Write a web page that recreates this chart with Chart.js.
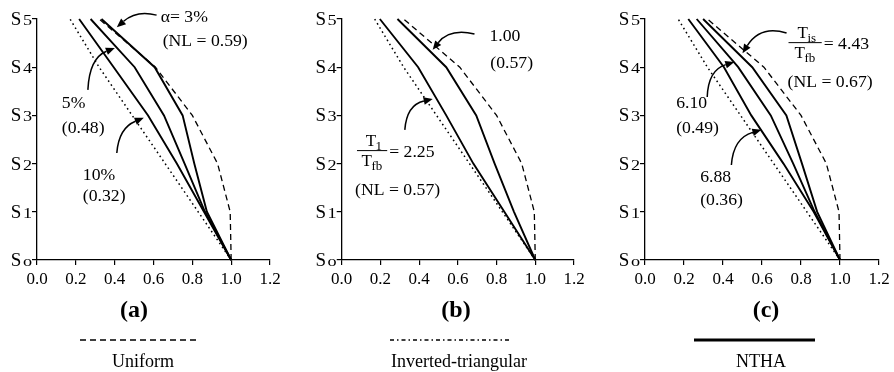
<!DOCTYPE html>
<html><head><meta charset="utf-8">
<script src="https://cdn.jsdelivr.net/npm/chart.js@4.4.1/dist/chart.umd.min.js"></script>
<style>
html,body{margin:0;padding:0;background:#fff;}
#wrap{position:relative;width:894px;height:372px;overflow:hidden;background:#fff;}
.p{position:absolute;top:0;width:298px;height:372px;}
canvas{display:block;}
</style></head><body>
<div id="wrap">
<div class="p" style="left:0"><canvas id="ca" width="298" height="372"></canvas></div>
<div class="p" style="left:298px"><canvas id="cb" width="298" height="372"></canvas></div>
<div class="p" style="left:596px"><canvas id="cc" width="298" height="372"></canvas></div>
</div>
<script>
// ---- data ----
const levels = [0, 1, 2, 3, 4, 5];
const yTickMain = 'S';
const yTickSubs = ['o', '1', '2', '3', '4', '5'];
const xTicks = [0, 0.2, 0.4, 0.6, 0.8, 1.0, 1.2];

const uniform = [1.0, 0.995, 0.93, 0.80, 0.61, 0.32];
const invTri  = [1.0, 0.83, 0.66, 0.49, 0.32, 0.17];

const nthaA3  = [1.0, 0.875, 0.81, 0.75, 0.606, 0.332];
const nthaA5  = [1.0, 0.865, 0.76, 0.654, 0.503, 0.276];
const nthaA10 = [1.0, 0.86, 0.72, 0.572, 0.395, 0.217];

const nthaB100 = [1.0, 0.89, 0.79, 0.695, 0.54, 0.288];
const nthaB225 = [1.0, 0.84, 0.68, 0.54, 0.395, 0.197];

const nthaC443 = [1.0, 0.883, 0.805, 0.725, 0.55, 0.298];
const nthaC610 = [1.0, 0.87, 0.76, 0.645, 0.478, 0.265];
const nthaC688 = [1.0, 0.865, 0.71, 0.545, 0.405, 0.222];

const panelTitles = ['(a)', '(b)', '(c)'];
const legendNames = ['Uniform', 'Inverted-triangular', 'NTHA'];

// ---- styling ----
const FONT = '"Liberation Serif", "Times New Roman", serif';
function pts(arr) { return arr.map((x, i) => ({ x: x, y: levels[i] })); }
function solid(arr) { return { data: pts(arr), borderColor: '#000', borderWidth: 1.9, pointRadius: 0, fill: false, tension: 0 }; }
function dashedDs() { return { data: pts(uniform), borderColor: '#000', borderWidth: 1.3, borderDash: [6, 4], pointRadius: 0, fill: false, tension: 0 }; }
function dottedDs() { return { data: pts(invTri), borderColor: '#000', borderWidth: 1.5, borderDash: [1.6, 3.2], pointRadius: 0, fill: false, tension: 0 }; }

const panelCfg = {
  ca: {
    L: 37, R: 28, title: panelTitles[0], titleX: 134,
    legend: { name: legendNames[0], x1: 80, x2: 197, tx: 143, style: 'dash' },
    texts: [
      { s: 'α= 3%', x: 0.637, y: 5.04 },
      { s: '(NL = 0.59)', x: 0.647, y: 4.54 },
      { s: '5%', x: 0.128, y: 3.24 },
      { s: '(0.48)', x: 0.128, y: 2.72 },
      { s: '10%', x: 0.236, y: 1.76 },
      { s: '(0.32)', x: 0.236, y: 1.31 }
    ],
    fracs: [],
    arrows: [
      { f: [0.616, 5.08], c: [0.514, 5.19], t: [0.411, 4.83] },
      { f: [0.262, 3.53], c: [0.27, 4.19], t: [0.401, 4.40] },
      { f: [0.411, 2.22], c: [0.421, 2.74], t: [0.55, 2.95] }
    ]
  },
  cb: {
    L: 43.7, R: 22, title: panelTitles[1], titleX: 158,
    legend: { name: legendNames[1], x1: 92, x2: 212, tx: 161, style: 'dashdot' },
    texts: [
      { s: '1.00', x: 0.763, y: 4.63 },
      { s: '(0.57)', x: 0.768, y: 4.07 },
      { s: '(NL = 0.57)', x: 0.069, y: 1.45 }
    ],
    fracs: [ { x: 0.079, y: 2.28, num: ['T', '1'], den: ['T', 'fb'], rhs: '= 2.25', pad: 9 } ],
    arrows: [
      { f: [0.686, 4.69], c: [0.557, 4.81], t: [0.47, 4.36] },
      { f: [0.326, 2.70], c: [0.336, 3.22], t: [0.47, 3.34] }
    ]
  },
  cc: {
    L: 49, R: 15, title: panelTitles[2], titleX: 170,
    legend: { name: legendNames[2], x1: 98, x2: 219, tx: 165, style: 'solid' },
    texts: [
      { s: '(NL = 0.67)', x: 0.731, y: 3.69 },
      { s: '6.10', x: 0.16, y: 3.24 },
      { s: '(0.49)', x: 0.16, y: 2.72 },
      { s: '6.88', x: 0.283, y: 1.72 },
      { s: '(0.36)', x: 0.283, y: 1.24 }
    ],
    fracs: [ { x: 0.736, y: 4.52, num: ['T', 'is'], den: ['T', 'fb'], rhs: '= 4.43', pad: 12 } ],
    arrows: [
      { f: [0.726, 4.71], c: [0.592, 4.88], t: [0.50, 4.29] },
      { f: [0.319, 3.38], c: [0.324, 3.94], t: [0.458, 4.11] },
      { f: [0.443, 1.97], c: [0.453, 2.53], t: [0.597, 2.70] }
    ]
  }
};

function txt(ctx, s, x, y, size, opts) {
  opts = opts || {};
  ctx.save();
  ctx.font = (opts.bold ? 'bold ' : '') + size + 'px ' + FONT;
  ctx.fillStyle = '#000';
  ctx.textAlign = opts.align || 'left';
  ctx.textBaseline = opts.base || 'middle';
  ctx.translate(x, y);
  ctx.scale(opts.sx || 1, 1);
  ctx.fillText(s, 0, 0);
  ctx.restore();
}
function measure(ctx, s, size) {
  ctx.save(); ctx.font = size + 'px ' + FONT; const w = ctx.measureText(s).width; ctx.restore(); return w;
}
function subW(ctx, pair) { return measure(ctx, pair[0], 17) + measure(ctx, pair[1], 13); }
function drawSub(ctx, pair, x, base) {
  txt(ctx, pair[0], x, base, 17, { base: 'alphabetic' });
  txt(ctx, pair[1], x + measure(ctx, pair[0], 17) - 0.5, base + 4, 13, { base: 'alphabetic' });
}

const drawPlugin = {
  id: 'panelDecor',
  afterDraw(chart) {
    const cfg = panelCfg[chart.canvas.id];
    const ctx = chart.ctx;
    const xs = chart.scales.x, ys = chart.scales.y;
    const ca = chart.chartArea;
    // y tick labels: S with small index
    levels.forEach((lv, i) => {
      const y = ys.getPixelForValue(lv);
      const right = ca.left - 5;
      const sub = yTickSubs[i];
      const sx = 1.3;
      const wSub = measure(ctx, sub, 14) * sx;
      txt(ctx, sub, right - wSub, y + 6, 14, { base: 'alphabetic', sx: sx });
      txt(ctx, yTickMain, right - wSub - 1.5, y + 6, 19, { align: 'right', base: 'alphabetic' });
    });
    // annotation texts
    cfg.texts.forEach(t => {
      txt(ctx, t.s, xs.getPixelForValue(t.x), ys.getPixelForValue(t.y), 17, { sx: 1.04 });
    });
    // fractions
    cfg.fracs.forEach(fr => {
      const bx = xs.getPixelForValue(fr.x), by = ys.getPixelForValue(fr.y);
      const wn = subW(ctx, fr.num), wd = subW(ctx, fr.den);
      const W = Math.max(wn, wd) + fr.pad;
      drawSub(ctx, fr.num, bx + (W - wn) / 2 + 2, by - 4);
      drawSub(ctx, fr.den, bx + (W - wd) / 2, by + 16);
      ctx.save(); ctx.strokeStyle = '#000'; ctx.lineWidth = 1;
      ctx.beginPath(); ctx.moveTo(bx, by + 0.5); ctx.lineTo(bx + W, by + 0.5); ctx.stroke(); ctx.restore();
      txt(ctx, fr.rhs, bx + W + 2, by + 2, 17, { sx: 1.04 });
    });
    // curved arrows
    cfg.arrows.forEach(a => {
      const fx = xs.getPixelForValue(a.f[0]), fy = ys.getPixelForValue(a.f[1]);
      const cx = xs.getPixelForValue(a.c[0]), cy = ys.getPixelForValue(a.c[1]);
      const tx = xs.getPixelForValue(a.t[0]), ty = ys.getPixelForValue(a.t[1]);
      const ang = Math.atan2(ty - cy, tx - cx);
      const hl = 9, hw = 3.8;
      const bxp = tx - hl * Math.cos(ang), byp = ty - hl * Math.sin(ang);
      ctx.save();
      ctx.strokeStyle = '#000'; ctx.fillStyle = '#000'; ctx.lineWidth = 1.5;
      ctx.beginPath(); ctx.moveTo(fx, fy); ctx.quadraticCurveTo(cx, cy, bxp, byp); ctx.stroke();
      ctx.beginPath();
      ctx.moveTo(tx, ty);
      ctx.lineTo(bxp + hw * Math.sin(ang), byp - hw * Math.cos(ang));
      ctx.lineTo(bxp - hw * Math.sin(ang), byp + hw * Math.cos(ang));
      ctx.closePath(); ctx.fill();
      ctx.restore();
    });
    // panel title
    txt(ctx, cfg.title, cfg.titleX, 311, 24, { align: 'center', bold: true });
    // legend item
    const lg = cfg.legend;
    ctx.save();
    ctx.strokeStyle = '#000';
    if (lg.style === 'dash') { ctx.lineWidth = 1.3; ctx.setLineDash([6, 4]); }
    else if (lg.style === 'dashdot') { ctx.lineWidth = 1.3; ctx.setLineDash([4, 3, 1.5, 3]); }
    else { ctx.lineWidth = 3; ctx.setLineDash([]); }
    ctx.beginPath(); ctx.moveTo(lg.x1, 340); ctx.lineTo(lg.x2, 340); ctx.stroke();
    ctx.restore();
    txt(ctx, lg.name, lg.tx, 362, 18, { align: 'center' });
  }
};

function makeChart(id, datasets) {
  const cfg = panelCfg[id];
  return new Chart(document.getElementById(id), {
    type: 'line',
    data: { datasets: datasets },
    plugins: [drawPlugin],
    options: {
      responsive: false, animation: false, devicePixelRatio: 1,
      layout: { padding: { left: 0, right: cfg.R, top: 19, bottom: 0 } },
      plugins: { legend: { display: false }, tooltip: { enabled: false } },
      elements: { line: { borderCapStyle: 'butt' } },
      datasets: { line: { clip: false } },
      scales: {
        x: {
          type: 'linear', min: 0, max: 1.2,
          afterBuildTicks: s => { s.ticks = xTicks.map(v => ({ value: v })); },
          afterFit: s => { s.height = 112; },
          grid: { drawOnChartArea: false, drawTicks: true, tickLength: 5, color: '#000', lineWidth: 1.2 },
          border: { color: '#000', width: 1.3 },
          ticks: { color: '#000', font: { family: FONT, size: 17 }, padding: 4, maxRotation: 0, autoSkip: false,
                   callback: v => Number(v).toFixed(1) }
        },
        y: {
          type: 'linear', min: 0, max: 5,
          afterBuildTicks: s => { s.ticks = levels.map(v => ({ value: v })); },
          afterFit: s => { s.width = cfg.L; },
          grid: { drawOnChartArea: false, drawTicks: true, tickLength: 5, color: '#000', lineWidth: 1.2 },
          border: { color: '#000', width: 1.3 },
          ticks: { callback: () => '', font: { size: 1 } }
        }
      }
    }
  });
}

makeChart('ca', [solid(nthaA3), solid(nthaA5), solid(nthaA10), dashedDs(), dottedDs()]);
makeChart('cb', [solid(nthaB100), solid(nthaB225), dashedDs(), dottedDs()]);
makeChart('cc', [solid(nthaC443), solid(nthaC610), solid(nthaC688), dashedDs(), dottedDs()]);
</script>
</body></html>
